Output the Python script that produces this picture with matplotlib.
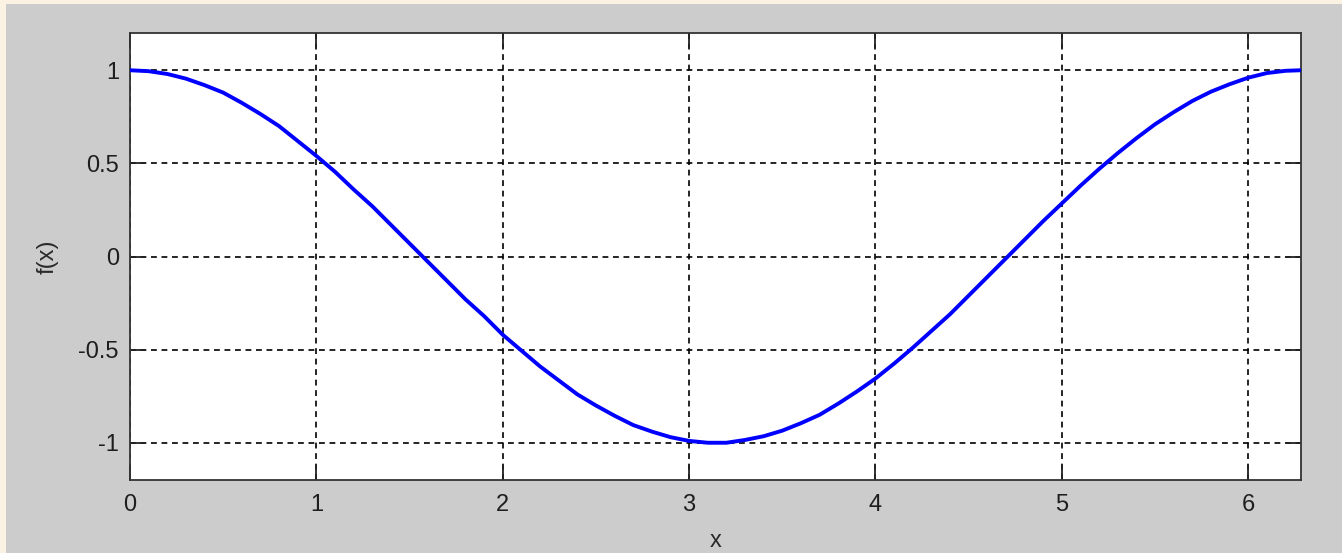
import numpy as np
import matplotlib
matplotlib.use("Agg")
import matplotlib.pyplot as plt
from matplotlib.patches import Rectangle

# values
x = [0.0, 0.1, 0.2, 0.3, 0.4, 0.5, 0.6, 0.7, 0.8, 0.9,
     1.0, 1.1, 1.2, 1.3, 1.4, 1.5, 1.6, 1.7, 1.8, 1.9,
     2.0, 2.1, 2.2, 2.3, 2.4, 2.5, 2.6, 2.7, 2.8, 2.9,
     3.0, 3.1, 3.2, 3.3, 3.4, 3.5, 3.6, 3.7, 3.8, 3.9,
     4.0, 4.1, 4.2, 4.3, 4.4, 4.5, 4.6, 4.7, 4.8, 4.9,
     5.0, 5.1, 5.2, 5.3, 5.4, 5.5, 5.6, 5.7, 5.8, 5.9,
     6.0, 6.1, 6.2, 6.283]
fx = [1.0, 0.995, 0.98, 0.955, 0.92, 0.88, 0.825, 0.765, 0.70, 0.62,
      0.54, 0.455, 0.36, 0.27, 0.17, 0.07, -0.03, -0.13, -0.23, -0.32,
      -0.42, -0.505, -0.59, -0.665, -0.74, -0.80, -0.855, -0.905, -0.94, -0.97,
      -0.99, -1.0, -1.0, -0.985, -0.965, -0.935, -0.895, -0.85, -0.79, -0.725,
      -0.655, -0.575, -0.49, -0.40, -0.31, -0.21, -0.11, -0.01, 0.09, 0.19,
      0.285, 0.38, 0.47, 0.555, 0.635, 0.71, 0.775, 0.835, 0.885, 0.925,
      0.96, 0.985, 0.997, 1.0]
xticks = [0, 1, 2, 3, 4, 5, 6]
yticks = [-1, -0.5, 0, 0.5, 1]
ytick_labels = ["-1", "-0.5", "0", "0.5", "1"]

plt.rcParams['font.family'] = ['Liberation Sans', 'DejaVu Sans']

fig = plt.figure(figsize=(13.42, 5.53), dpi=100, facecolor="#fbf2e4")
fig.patches.append(Rectangle((6 / 1342, 0), 1, 549 / 553, transform=fig.transFigure,
                             facecolor="#cccccc", edgecolor="none", zorder=-5))
ax = fig.add_axes([130 / 1342, 73 / 553, 1171 / 1342, 447 / 553])
ax.set_zorder(1)
ax.set_facecolor("white")

ax.plot(x, fx, color="#0000ff", lw=2.8, zorder=3)

ax.set_xlim(0, 2 * np.pi)
ax.set_ylim(-1.2, 1.2)
ax.set_xticks(xticks)
ax.set_yticks(yticks)
ax.set_yticklabels(ytick_labels)
ax.grid(True, color="black", lw=1.2, linestyle=(0, (3.5, 2.8)))
ax.tick_params(direction="in", length=11, width=1.3, top=True, right=True,
               labelsize=17, labelcolor="#1e1e1e", colors="#222222")
ax.tick_params(axis="x", pad=10)
ax.tick_params(axis="y", pad=8)
for s in ax.spines.values():
    s.set_linewidth(1.3)
    s.set_color("#333333")

ax.set_xlabel("x", fontsize=17, color="#2a2a2a", labelpad=10)
ax.set_ylabel("f(x)", fontsize=17, color="#2a2a2a", labelpad=14)

fig.savefig("out.png", dpi=100, facecolor=fig.get_facecolor())
